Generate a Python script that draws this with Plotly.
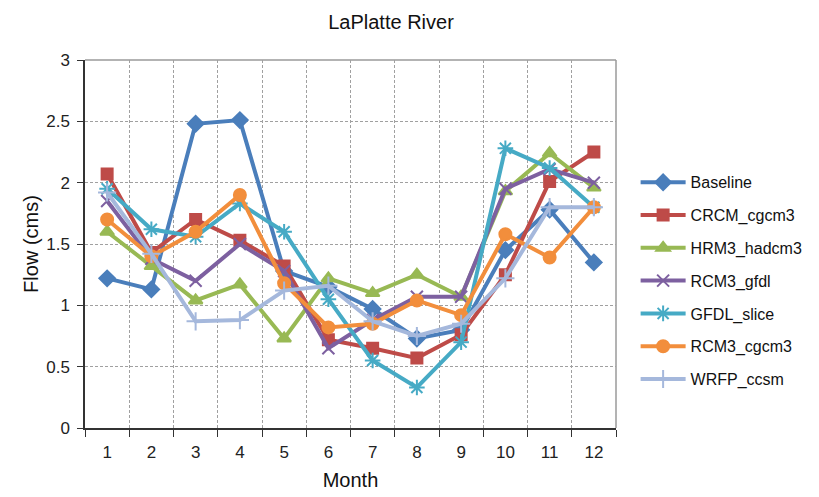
import plotly.graph_objects as go

months = list(range(1, 13))

baseline = [1.22, 1.13, 2.48, 2.51, 1.28, 1.15, 0.97, 0.73, 0.80, 1.45, 1.78, 1.35]
crcm_cgcm3 = [2.07, 1.43, 1.70, 1.53, 1.32, 0.72, 0.65, 0.57, 0.76, 1.25, 2.01, 2.25]
hrm3_hadcm3 = [1.60, 1.32, 1.04, 1.17, 0.73, 1.22, 1.10, 1.25, 1.07, 1.93, 2.24, 1.96]
rcm3_gfdl = [1.85, 1.38, 1.20, 1.50, 1.28, 0.65, 0.88, 1.07, 1.07, 1.95, 2.11, 2.00]
gfdl_slice = [1.95, 1.62, 1.56, 1.83, 1.60, 1.05, 0.55, 0.33, 0.70, 2.28, 2.12, 1.80]
rcm3_cgcm3 = [1.70, 1.40, 1.60, 1.90, 1.18, 0.82, 0.85, 1.04, 0.92, 1.58, 1.39, 1.80]
wrfp_ccsm = [1.92, 1.42, 0.87, 0.88, 1.12, 1.16, 0.87, 0.75, 0.85, 1.22, 1.80, 1.80]

y_ticks = [0, 0.5, 1, 1.5, 2, 2.5, 3]
y_labels = ['0', '0.5', '1', '1.5', '2', '2.5', '3']

series = [
    ('Baseline', baseline, '#4A7EBB', 'diamond', 12),
    ('CRCM_cgcm3', crcm_cgcm3, '#BE4B48', 'square', 11),
    ('HRM3_hadcm3', hrm3_hadcm3, '#98B954', 'triangle-up', 12),
    ('RCM3_gfdl', rcm3_gfdl, '#7D60A0', 'x-thin', 12),
    ('GFDL_slice', gfdl_slice, '#46AAC5', 'asterisk', 13),
    ('RCM3_cgcm3', rcm3_cgcm3, '#F28E3C', 'circle', 12),
    ('WRFP_ccsm', wrfp_ccsm, '#A5B8DC', 'cross-thin', 13),
]

font = 'Arial, Liberation Sans, sans-serif'

# the page body adds an 8px offset, so the figure is a little smaller
W, H = 811, 489

fig = go.Figure()
for i, (name, vals, color, symbol, size) in enumerate(series):
    fig.add_trace(go.Scatter(
        x=months, y=vals, name=name, mode='lines+markers',
        legendgroup=f'g{i}',
        line=dict(color=color, width=4),
        marker=dict(symbol=symbol, size=size, color=color,
                    line=dict(color=color, width=2)),
    ))

grid = dict(showgrid=True, gridcolor='#a0a0a0', griddash='3px,2px', gridwidth=1)

fig.update_layout(
    width=W, height=H,
    margin=dict(l=77, r=202, t=52, b=69),
    paper_bgcolor='white', plot_bgcolor='white',
    font=dict(family=font, size=16, color='#222'),
    title=dict(text='LaPlatte River', x=383 / W, xref='container', xanchor='center',
               y=1 - 14 / H, yref='container', yanchor='middle',
               font=dict(size=20, color='#111')),
    showlegend=True,
    legend=dict(x=1.035, xref='paper', xanchor='left',
                y=0.40, yanchor='middle', tracegroupgap=9,
                itemwidth=45, font=dict(size=16, color='#111')),
    xaxis=dict(
        range=[0.5, 12.5], tickmode='array', tickvals=months,
        ticks='', showgrid=False, zeroline=False, automargin=False,
        showline=True, linecolor='#333', linewidth=1.5,
        ticklabelstandoff=8,
        minor=dict(tick0=0.5, dtick=1, ticks='outside', ticklen=7,
                   tickcolor='#333', **grid),
        title=dict(text='Month', font=dict(size=20, color='#111'), standoff=12),
        tickfont=dict(size=17),
    ),
    yaxis=dict(
        range=[0, 3], tickmode='array', tickvals=y_ticks, ticktext=y_labels,
        zeroline=False, ticks='outside', ticklen=6, tickcolor='#333',
        automargin=False, ticklabelstandoff=4,
        showline=True, linecolor='#333', linewidth=1.5,
        title=dict(text='Flow (cms)', font=dict(size=20, color='#111'), standoff=2),
        tickfont=dict(size=17),
        **grid,
    ),
)

# gray frame on top and right sides of the plot area
fig.add_shape(type='line', xref='x domain', yref='y domain', x0=0, x1=1, y0=1, y1=1,
              line=dict(color='#9a9a9a', width=1.5), layer='below')
fig.add_shape(type='line', xref='x domain', yref='y domain', x0=1, x1=1, y0=0, y1=1,
              line=dict(color='#9a9a9a', width=1.5), layer='below')

fig.write_html('out.html')
